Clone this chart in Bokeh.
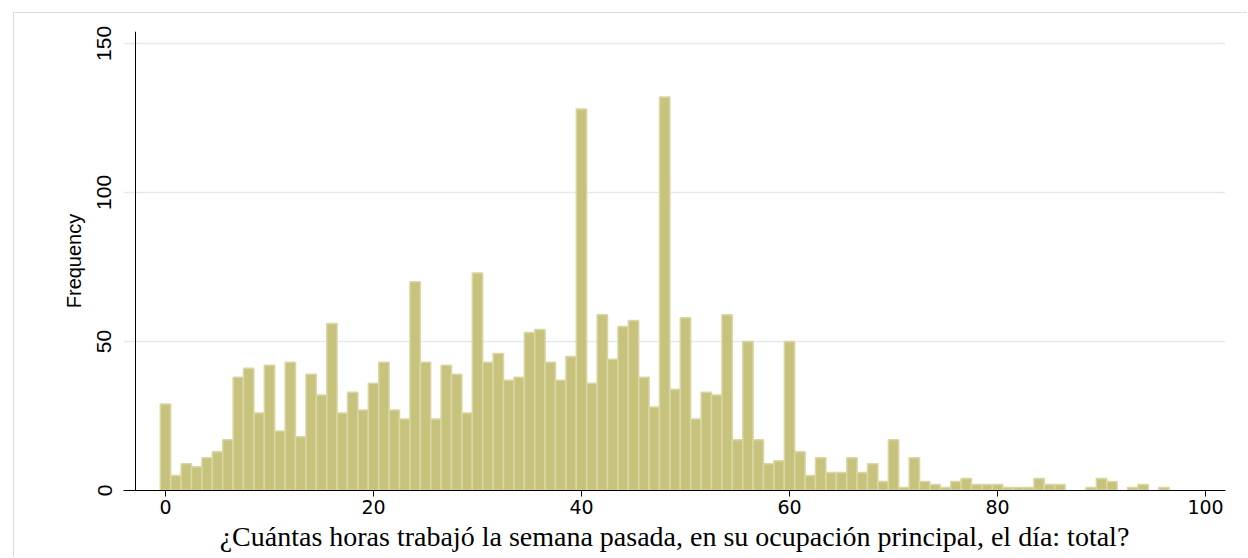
from bokeh.plotting import figure
from bokeh.models import ColumnDataSource, FixedTicker, Span, Range1d
from bokeh.embed import file_html
from bokeh.resources import INLINE

# Data: weekly hours worked (bins of 1 hour) and frequency
hours = list(range(0, 97))
counts = [29, 5, 9, 8, 11, 13, 17, 38, 41, 26,
          42, 20, 43, 18, 39, 32, 56, 26, 33, 27,
          36, 43, 27, 24, 70, 43, 24, 42, 39, 26,
          73, 43, 46, 37, 38, 53, 54, 43, 37, 45,
          128, 36, 59, 44, 55, 57, 38, 28, 132, 34,
          58, 24, 33, 32, 59, 17, 50, 17, 9, 10,
          50, 13, 5, 11, 6, 6, 11, 6, 9, 3,
          17, 1, 11, 3, 2, 1, 3, 4, 2, 2,
          2, 1, 1, 1, 4, 2, 2, 0, 0, 1,
          4, 3, 0, 1, 2, 0, 1]
x_ticks = [0, 20, 40, 60, 80, 100]
y_ticks = [0, 50, 100, 150]
x_title = "¿Cuántas horas trabajó la semana pasada, en su ocupación principal, el día: total?"
y_title = "Frequency"

xs = [h for h, c in zip(hours, counts) if c > 0]
ys = [c for c in counts if c > 0]
source = ColumnDataSource(dict(x=xs, top=ys))

p = figure(width=1234, height=545,
           x_range=Range1d(-4.04, 101.92), y_range=Range1d(0, 154),
           output_backend="svg", toolbar_location=None,
           min_border_left=109, min_border_right=23,
           min_border_top=18, min_border_bottom=68,
           margin=(12, 0, 0, 13))
p.styles = {"border-top": "1px solid #dddddd", "border-left": "1px solid #dddddd"}
p.outline_line_color = None
p.background_fill_color = "white"
p.border_fill_color = "white"

p.vbar(x="x", top="top", width=1.0, bottom=0, source=source,
       fill_color="#c8c37c", line_color="#dad6a6", line_width=1.5)

# grid
p.xgrid.visible = False
p.ygrid.grid_line_color = "#e3eaee"
p.ygrid.grid_line_width = 1.5

# y axis
p.yaxis.ticker = FixedTicker(ticks=y_ticks)
p.yaxis.axis_line_color = None
p.yaxis.major_tick_out = 0
p.yaxis.major_tick_in = 0
p.yaxis.minor_tick_line_color = None
p.yaxis.major_label_orientation = "vertical"
p.yaxis.major_label_text_font = "Liberation Sans"
p.yaxis.major_label_text_font_size = "21px"
p.yaxis.major_label_text_color = "black"
p.yaxis.major_label_standoff = 12
p.yaxis.axis_label = y_title
p.yaxis.axis_label_text_font = "Liberation Sans"
p.yaxis.axis_label_text_font_size = "20px"
p.yaxis.axis_label_text_font_style = "normal"
p.yaxis.axis_label_text_color = "black"
p.yaxis.axis_label_standoff = 10

# vertical axis line (Stata-style, inset from frame edge)
p.add_layout(Span(location=-2.885, dimension="height", line_color="black", line_width=1))

# x axis
p.xaxis.ticker = FixedTicker(ticks=x_ticks)
p.xaxis.axis_line_color = "black"
p.xaxis.axis_line_width = 1
p.xaxis.major_tick_out = 6
p.xaxis.major_tick_in = 0
p.xaxis.major_tick_line_color = "black"
p.xaxis.minor_tick_line_color = None
p.xaxis.major_label_text_font = "DejaVu Sans"
p.xaxis.major_label_text_font_size = "19px"
p.xaxis.major_label_text_color = "black"
p.xaxis.major_label_standoff = 3
p.xaxis.axis_label = x_title
p.xaxis.axis_label_text_font = "Liberation Serif"
p.xaxis.axis_label_text_font_size = "28px"
p.xaxis.axis_label_text_font_style = "normal"
p.xaxis.axis_label_text_color = "black"
p.xaxis.axis_label_standoff = 4

open("out.html", "w").write(file_html(p, INLINE))
